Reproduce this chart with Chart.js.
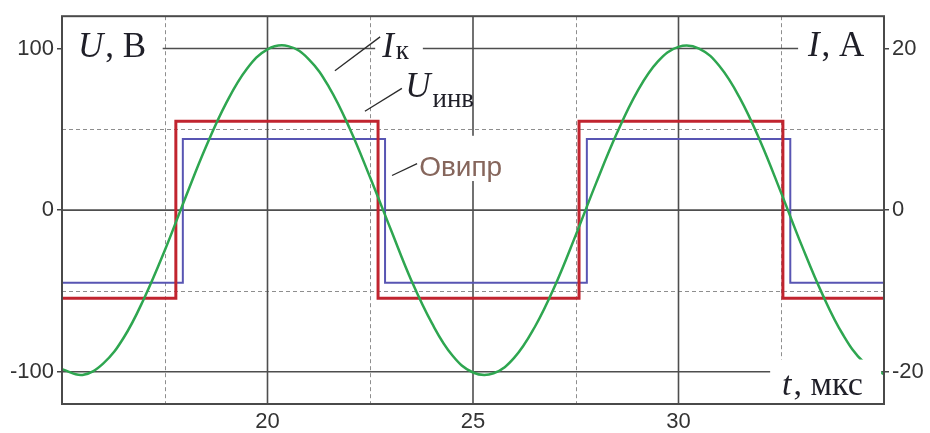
<!DOCTYPE html>
<html>
<head>
<meta charset="utf-8">
<script src="https://cdn.jsdelivr.net/npm/chart.js@4/dist/chart.umd.min.js"></script>
<style>
  html, body { margin: 0; padding: 0; background: #fff; }
  #wrap { width: 930px; height: 433px; }
</style>
</head>
<body>
<div id="wrap"><canvas id="waveChart" width="930" height="433"></canvas></div>
<script>
// axis ticks and grid positions
const tTicks = [20, 25, 30];
const tHalf = [17.5, 22.5, 27.5, 32.5];
const uTicks = [-100, 0, 100];
const uHalf = [-50, 50];
const iTicks = [-20, 0, 20];

// inverter voltage U_инв (V): switching instants and levels
const invSwitch = [15, 17.77, 22.69, 27.58, 32.54, 35];
const invLevel = [-54.5, 55, -54.5, 55, -54.5, -54.5];

// Овипр voltage (V)
const ovSwitch = [15, 17.94, 22.86, 27.77, 32.72, 35];
const ovLevel = [-45, 44, -45, 44, -45, -45];

// collector current I_к (A)
const tCurr = [15, 15.5, 16, 16.5, 17, 17.5, 18, 18.5, 19, 19.5, 20, 20.5, 21, 21.5, 22, 22.5,
  23, 23.5, 24, 24.5, 25, 25.5, 26, 26.5, 27, 27.5, 28, 28.5, 29, 29.5, 30, 30.5, 31, 31.5,
  32, 32.5, 33, 33.5, 34, 34.5, 35];
const iCurr = [-19.7, -20.4, -19.0, -15.8, -10.9, -5.0, 1.5, 7.8, 13.3, 17.5, 19.9, 20.3, 18.7,
  15.2, 10.1, 4.0, -2.4, -8.7, -14.0, -18.0, -20.1, -20.2, -18.3, -14.5, -9.3, -3.1, 3.4, 9.5,
  14.7, 18.4, 20.2, 20.0, 17.8, 13.8, 8.4, 2.1, -4.4, -10.4, -15.4, -18.8, -20.3];

const SERIF = '"Liberation Serif", "Times New Roman", serif';
const SANS = '"Liberation Sans", Arial, sans-serif';

const toPts = (xs, ys) => xs.map((v, i) => ({ x: v, y: ys[i] }));

// white patches under the captions, in axis units [t0, t1, u0, u1]
const patches = [
  [15, 17.45, 91, 120],
  [22.62, 23.78, 92, 110],
  [23.6, 26.0, 18, 46],
  [32.91, 35, 91, 120],
  [32.23, 34.93, -120, -92.5]
];
// caption pieces: [font, text, dy]
const captions = [
  { t: 15.39, u: 94.9, parts: [['italic 35px ' + SERIF, 'U', 0], ['35px ' + SERIF, ', В', 0]] },
  { t: 22.79, u: 94.9, parts: [['italic 35px ' + SERIF, 'I', 0], ['27px ' + SERIF, 'к', 2]] },
  { t: 23.35, u: 70.2, parts: [['italic 35px ' + SERIF, 'U', 0], ['27px ' + SERIF, 'инв', 10]] },
  { t: 33.15, u: 95.5, parts: [['italic 35px ' + SERIF, 'I', 0], ['35px ' + SERIF, ', А', 0]] },
  { t: 32.52, u: -114.5, parts: [['italic 34px ' + SERIF, 't', 0], ['34px ' + SERIF, ', мкс', 0]] }
];
const leaders = [
  [21.64, 86.3, 22.74, 107.2],
  [22.37, 61.2, 23.27, 75.3],
  [23.03, 21.4, 23.64, 28.8]
];

const gridPlugin = {
  id: 'oscGrid',
  beforeDatasetsDraw(chart) {
    const { ctx, chartArea: a, scales: { x, y } } = chart;
    const seg = (x0, y0, x1, y1) => { ctx.beginPath(); ctx.moveTo(x0, y0); ctx.lineTo(x1, y1); ctx.stroke(); };
    ctx.save();
    ctx.strokeStyle = '#8e8e8e';
    ctx.lineWidth = 1;
    ctx.setLineDash([4, 3]);
    tHalf.forEach(v => { const p = Math.round(x.getPixelForValue(v)) + 0.5; seg(p, a.top, p, a.bottom); });
    uHalf.forEach(v => { const p = Math.round(y.getPixelForValue(v)) + 0.5; seg(a.left, p, a.right, p); });
    ctx.setLineDash([]);
    ctx.strokeStyle = '#4e4e4e';
    ctx.lineWidth = 1.6;
    tTicks.forEach(v => { const p = x.getPixelForValue(v); seg(p, a.top, p, a.bottom); });
    uTicks.forEach(v => { const p = y.getPixelForValue(v); seg(a.left, p, a.right, p); });
    ctx.restore();
  },
  afterDatasetsDraw(chart) {
    const { ctx, chartArea: a, scales: { x, y } } = chart;
    ctx.save();
    ctx.fillStyle = '#fff';
    patches.forEach(([t0, t1, u0, u1]) => {
      const px0 = x.getPixelForValue(t0), px1 = x.getPixelForValue(t1);
      const py0 = y.getPixelForValue(u1), py1 = y.getPixelForValue(u0);
      ctx.fillRect(px0, py0, px1 - px0, py1 - py0);
    });

    ctx.strokeStyle = '#2b2b2b';
    ctx.lineWidth = 1.3;
    leaders.forEach(([t0, u0, t1, u1]) => {
      ctx.beginPath();
      ctx.moveTo(x.getPixelForValue(t0), y.getPixelForValue(u0));
      ctx.lineTo(x.getPixelForValue(t1), y.getPixelForValue(u1));
      ctx.stroke();
    });

    ctx.fillStyle = '#1f1f28';
    ctx.textBaseline = 'alphabetic';
    ctx.textAlign = 'left';
    captions.forEach(c => {
      let px = x.getPixelForValue(c.t);
      const py = y.getPixelForValue(c.u);
      c.parts.forEach(([font, text, dy]) => {
        ctx.font = font;
        ctx.fillText(text, px, py + dy);
        px += ctx.measureText(text).width + (font.startsWith('italic') ? 2 : 0);
      });
    });

    ctx.font = '28px ' + SANS;
    ctx.fillStyle = '#86665c';
    ctx.fillText('Овипр', x.getPixelForValue(23.69), y.getPixelForValue(20.8));

    ctx.strokeStyle = '#4a4a4a';
    ctx.lineWidth = 2;
    ctx.strokeRect(a.left, a.top, a.right - a.left, a.bottom - a.top);
    ctx.restore();
  }
};

const tickFont = { family: SANS, size: 22 };

new Chart(document.getElementById('waveChart'), {
  type: 'line',
  data: {
    datasets: [
      {
        label: 'Iк',
        data: toPts(tCurr, iCurr),
        yAxisID: 'y2',
        borderColor: '#2ea650',
        borderWidth: 2.5,
        tension: 0.4,
        pointRadius: 0
      },
      {
        label: 'Uинв',
        data: toPts(invSwitch, invLevel),
        yAxisID: 'y',
        stepped: 'before',
        borderColor: '#c1242f',
        borderWidth: 3,
        pointRadius: 0
      },
      {
        label: 'Овипр',
        data: toPts(ovSwitch, ovLevel),
        yAxisID: 'y',
        stepped: 'before',
        borderColor: '#5855b3',
        borderWidth: 2,
        pointRadius: 0
      }
    ]
  },
  options: {
    responsive: false,
    animation: false,
    devicePixelRatio: 1,
    layout: { padding: { top: 12, left: 0, right: 0, bottom: 0 } },
    plugins: { legend: { display: false }, tooltip: { enabled: false } },
    scales: {
      x: {
        type: 'linear',
        min: 15,
        max: 35,
        afterBuildTicks: s => { s.ticks = tTicks.map(v => ({ value: v })); },
        afterFit: s => { s.height = 29; },
        grid: { display: false, drawTicks: false },
        border: { display: false },
        ticks: { font: tickFont, color: '#333', padding: 5, maxRotation: 0 }
      },
      y: {
        position: 'left',
        min: -120,
        max: 120,
        afterBuildTicks: s => { s.ticks = uTicks.map(v => ({ value: v })); },
        afterFit: s => { s.width = 62; },
        grid: { drawOnChartArea: false, tickLength: 5, color: '#444', lineWidth: 1.5 },
        border: { display: false },
        ticks: { font: tickFont, color: '#333', padding: 3 }
      },
      y2: {
        position: 'right',
        min: -24,
        max: 24,
        afterBuildTicks: s => { s.ticks = iTicks.map(v => ({ value: v })); },
        afterFit: s => { s.width = 46; },
        grid: { drawOnChartArea: false, tickLength: 5, color: '#444', lineWidth: 1.5 },
        border: { display: false },
        ticks: { font: tickFont, color: '#333', padding: 3 }
      }
    }
  },
  plugins: [gridPlugin]
});
</script>
</body>
</html>
